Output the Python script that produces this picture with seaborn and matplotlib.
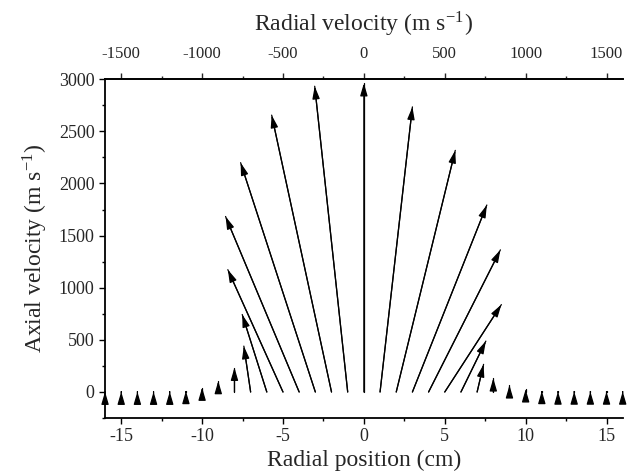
import numpy as np
import pandas as pd
import matplotlib
matplotlib.use('Agg')
import matplotlib.pyplot as plt
from matplotlib.ticker import MultipleLocator, FixedLocator
import seaborn as sns

# radial position of each vector tail (cm)
radial_position = list(range(-16, 17))
# radial velocity (m/s) -> horizontal component, 100 m/s per cm on the plot
radial_velocity = [0, 0, 0, 0, 0, 0, 0, 0,
                   0, -42, -152, -341, -455, -462, -370, -204,
                   0,
                   200, 365, 460, 444, 350, 154, 40, 0,
                   0, 0, 0, 0, 0, 0, 0, 0]
# axial velocity (m/s) -> vertical component
axial_velocity = [3, 3, 3, 3, 3, 10, 42, 105,
                  233, 440, 743, 1173, 1683, 2199, 2655, 2932,
                  2961,
                  2734, 2317, 1793, 1363, 838, 488, 265, 131,
                  64, 26, 10, 5, 5, 5, 5, 5]
top_ticks = [-1500, -1000, -500, 0, 500, 1000, 1500]

df = pd.DataFrame({'r': radial_position, 'vr': radial_velocity, 'vz': axial_velocity})
df['x_tip'] = df['r'] + df['vr'] / 100.0

sns.set_style('ticks')
plt.rcParams['font.family'] = ['Liberation Serif', 'DejaVu Serif']
plt.rcParams['mathtext.fontset'] = 'stix'
plt.rcParams['axes.unicode_minus'] = False

fig = plt.figure(figsize=(6.29, 4.74), dpi=100)
ax = fig.add_axes([0.167, 0.118, 0.823, 0.715])

# shafts via seaborn (one line per vector)
shafts = pd.concat([
    pd.DataFrame({'x': df['r'], 'y': 0.0, 'id': df.index}),
    pd.DataFrame({'x': df['x_tip'], 'y': df['vz'], 'id': df.index}),
])
sns.lineplot(data=shafts, x='x', y='y', units='id', estimator=None,
             color='black', lw=0.9, sort=False, ax=ax, legend=False)

# arrow heads of fixed size at each tip
for _, row in df.iterrows():
    ax.annotate('', xy=(row['x_tip'], row['vz']), xytext=(row['r'], 0),
                arrowprops=dict(arrowstyle='-|>,head_length=0.75,head_width=0.22',
                                mutation_scale=10, color='black', lw=0.9,
                                shrinkA=0, shrinkB=0))

ax.set_xlim(-16, 16)
ax.set_ylim(-250, 3000)
ax.xaxis.set_major_locator(MultipleLocator(5))
ax.xaxis.set_minor_locator(MultipleLocator(2.5))
ax.yaxis.set_major_locator(MultipleLocator(500))
ax.yaxis.set_minor_locator(MultipleLocator(250))
ax.tick_params(which='major', length=4, width=1, labelsize=13, color='black')
ax.tick_params(which='minor', length=2.5, width=1, color='black')
ax.set_xlabel('Radial position (cm)', fontsize=17, labelpad=3)
ax.set_ylabel('Axial velocity (m s$^{\\mathregular{-1}}$)', fontsize=17, labelpad=6)

for side in ['left', 'bottom', 'top']:
    ax.spines[side].set_linewidth(1.3)
    ax.spines[side].set_color('black')
ax.spines['right'].set_visible(False)

top = ax.secondary_xaxis('top', functions=(lambda x: x * 100, lambda v: v / 100))
top.xaxis.set_major_locator(FixedLocator(top_ticks))
top.xaxis.set_minor_locator(MultipleLocator(250))
top.tick_params(which='major', length=4, width=1, labelsize=12, pad=8)
top.tick_params(which='minor', length=2.5, width=1)
top.spines['top'].set_linewidth(1.3)
top.set_xlabel('Radial velocity (m s$^{\\mathregular{-1}}$)', fontsize=17, labelpad=11)

fig.savefig('out.png', dpi=100)
